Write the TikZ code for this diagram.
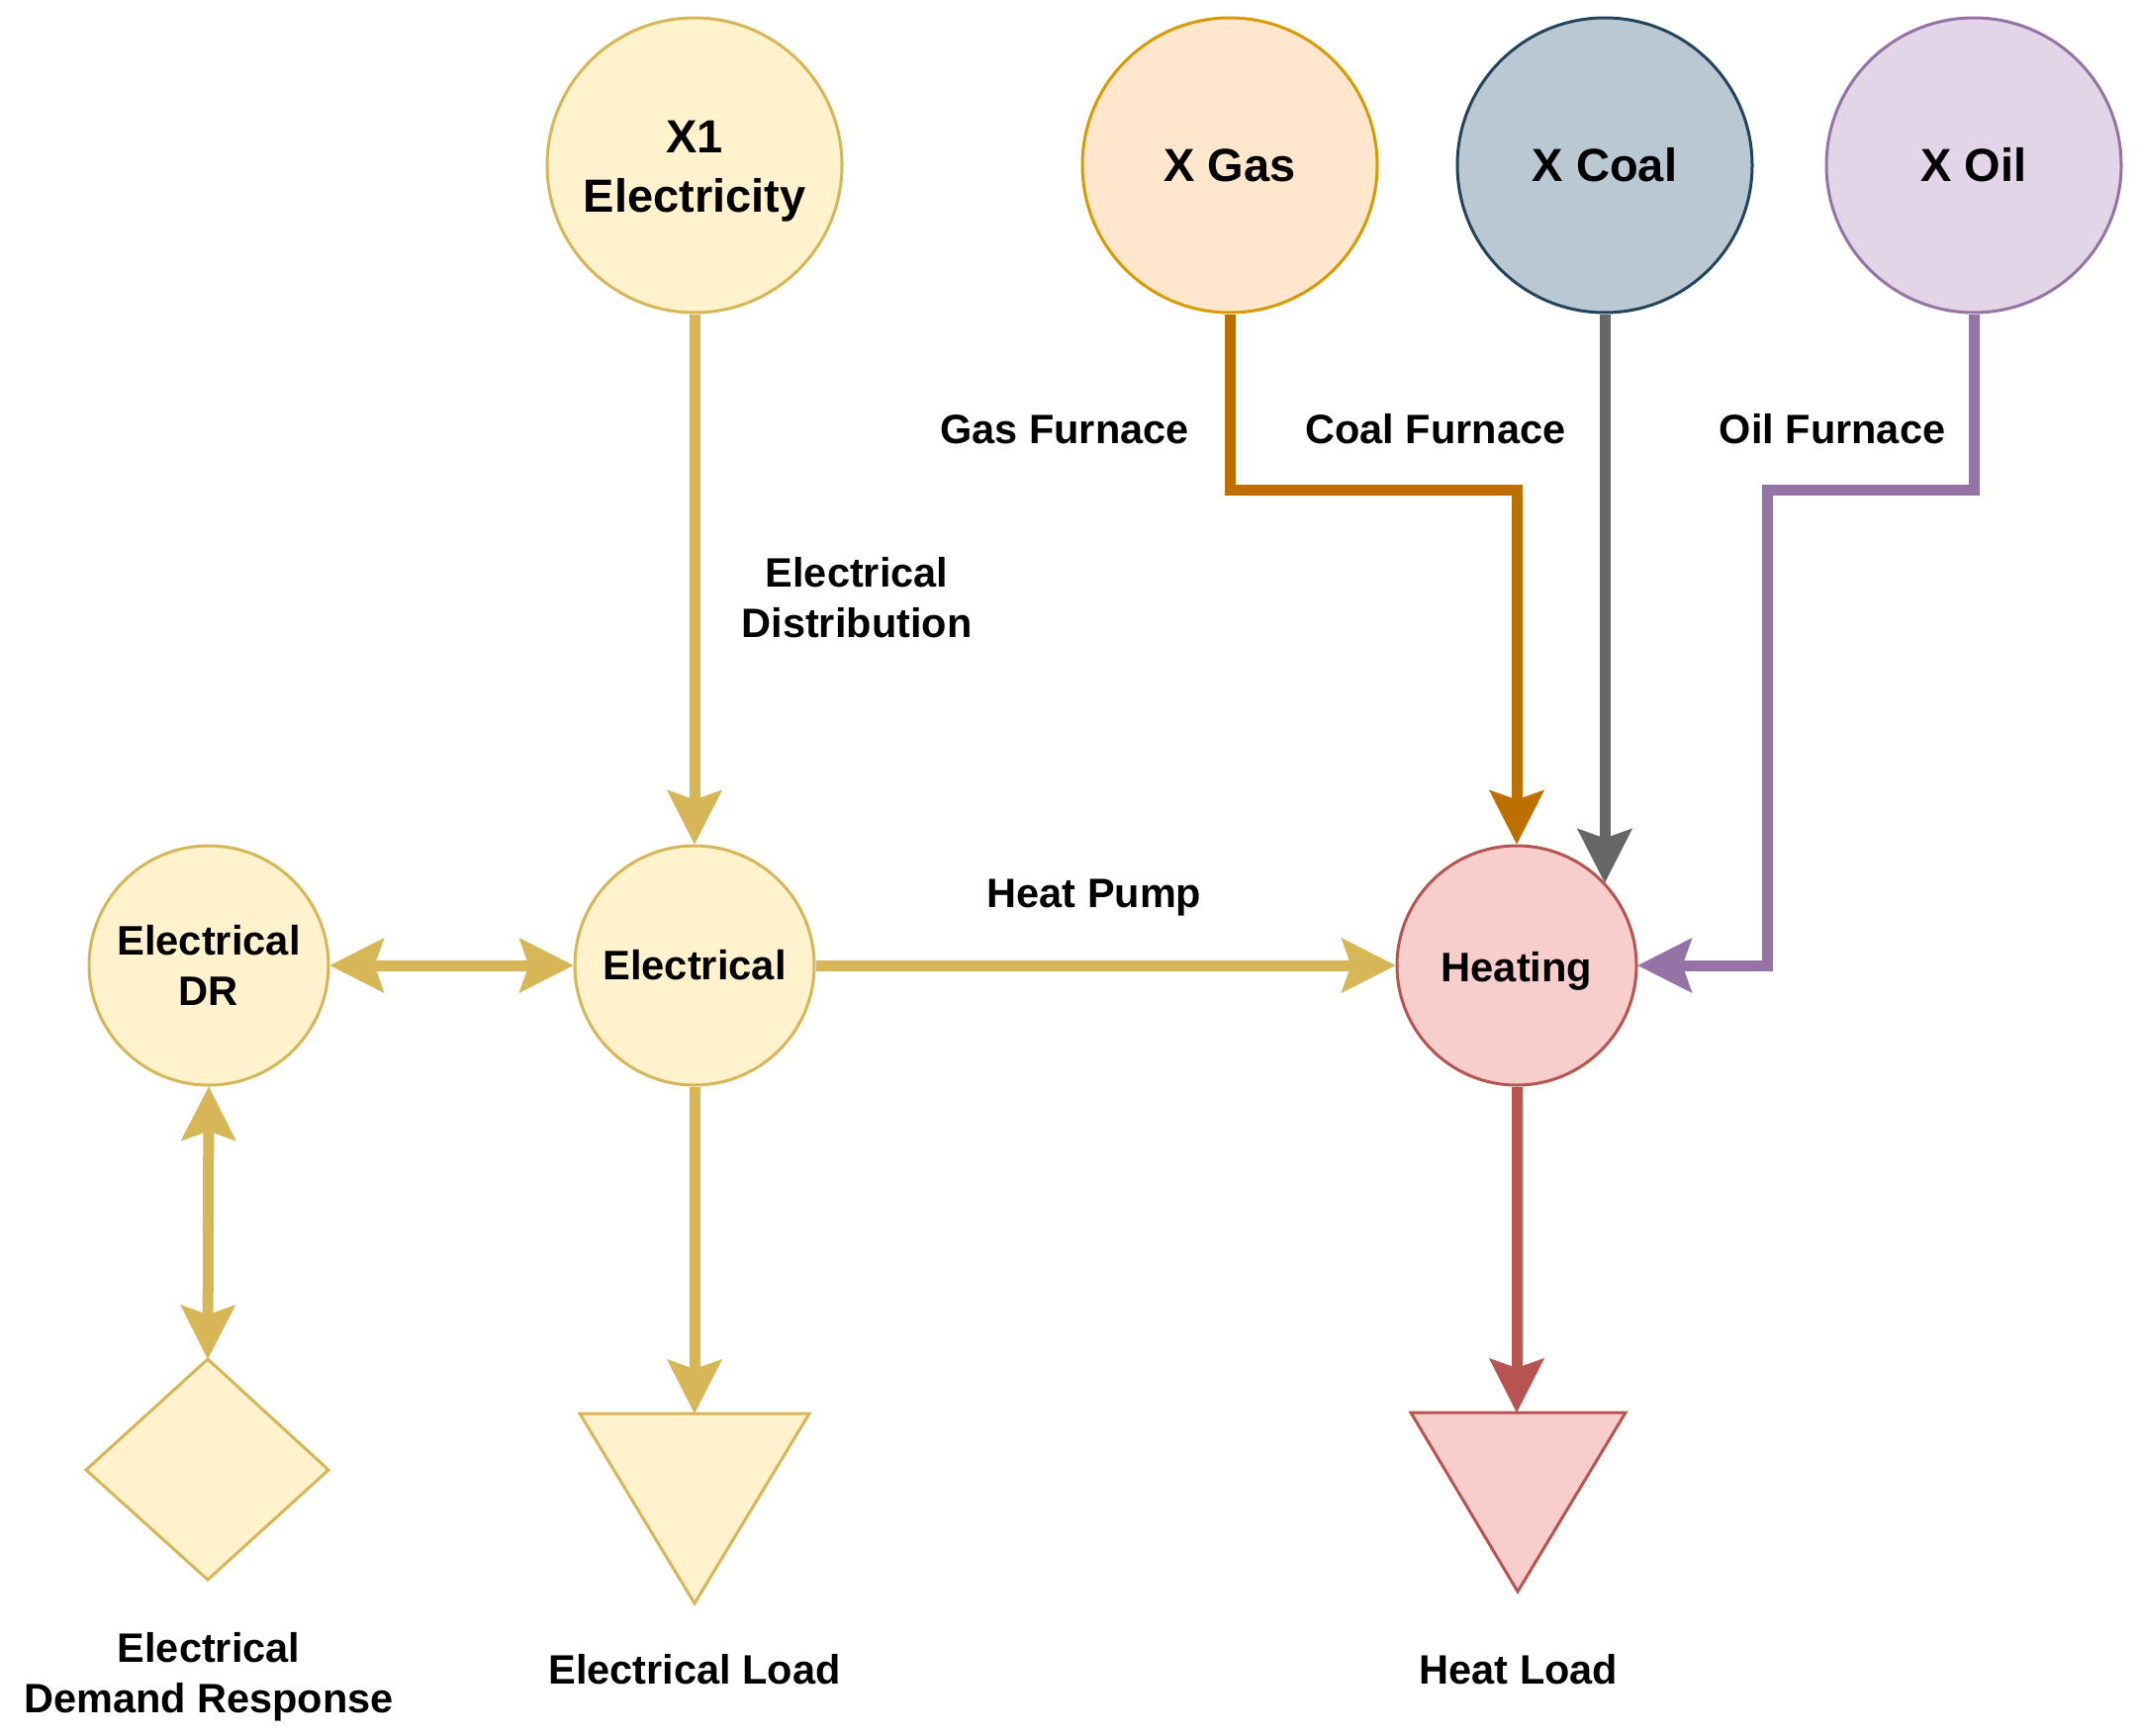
\documentclass[tikz,border=0pt]{standalone}
\usepackage{fontspec}
\setmainfont{Liberation Sans}
\usetikzlibrary{arrows.meta}
\definecolor{yfill}{HTML}{FFF2CC}
\definecolor{yline}{HTML}{D6B656}
\definecolor{gfill}{HTML}{FFE6CC}
\definecolor{gline}{HTML}{D79B00}
\definecolor{gedge}{HTML}{BD7000}
\definecolor{cfill}{HTML}{BAC8D3}
\definecolor{cline}{HTML}{23445D}
\definecolor{cedge}{HTML}{666666}
\definecolor{ofill}{HTML}{E1D5E7}
\definecolor{oline}{HTML}{9673A6}
\definecolor{hfill}{HTML}{F8CECC}
\definecolor{hline}{HTML}{B85450}
\newcommand{\lowertext}[1]{\raisebox{-6pt}[\height][\depth]{#1}}
\tikzset{
  bigcirc/.style={circle,draw,line width=3pt,minimum size=298pt,inner sep=0pt,align=center,
    font=\fontsize{47}{60}\selectfont\bfseries},
  smallcirc/.style={circle,draw,line width=3pt,minimum size=242pt,inner sep=0pt,align=center,
    font=\fontsize{41.7}{51}\selectfont\bfseries},
  lbl/.style={align=center,inner sep=0pt,font=\fontsize{41.5}{51}\selectfont\bfseries},
  tipshape/.tip={Stealth[length=55pt,width=56pt,inset=10pt,line width=0.5pt]},
  flow/.style={line width=11pt,line join=miter,-tipshape},
  bflow/.style={line width=11pt,line join=miter,tipshape-tipshape},
  shapeline/.style={line width=3pt,line join=miter}
}
\begin{document}
\begin{tikzpicture}[x=1pt,y=-1pt]
\useasboundingbox (0,0) rectangle (2163,1755);
% nodes
\node[bigcirc,fill=yfill,draw=yline] (x1) at (702,167) {\lowertext{\begin{tabular}{@{}c@{}}X1\\Electricity\end{tabular}}};
\node[bigcirc,fill=gfill,draw=gline] (gas) at (1243,167) {X Gas};
\node[bigcirc,fill=cfill,draw=cline] (coal) at (1622,167) {X Coal};
\node[bigcirc,fill=ofill,draw=oline] (oil) at (1995,167) {X Oil};
\node[smallcirc,fill=yfill,draw=yline] (dr) at (211,976) {Electrical\\DR};
\node[smallcirc,fill=yfill,draw=yline] (el) at (702,976) {Electrical};
\node[smallcirc,fill=hfill,draw=hline] (heat) at (1533,976) {\lowertext{Heating}};
% diamond
\draw[shapeline,fill=yfill,draw=yline] (210,1374) -- (332,1486) -- (210,1597) -- (87,1486) -- cycle;
\coordinate (dtop) at (210,1374);
% triangles
\draw[shapeline,fill=yfill,draw=yline] (586,1429) -- (818,1429) -- (702,1621) -- cycle;
\coordinate (eload) at (702,1429);
\draw[shapeline,fill=hfill,draw=hline] (1426,1428) -- (1643,1428) -- (1534,1609) -- cycle;
\coordinate (hload) at (1533,1428);
% corner coordinates
\coordinate (g1) at (1243,495);
\coordinate (o1) at (1786,495);
% edges
\draw[flow,draw=yline] (x1.south) -- (el.north);
\draw[flow,draw=yline] (el.east) -- (heat.west);
\draw[bflow,draw=yline] (dr.east) -- (el.west);
\draw[bflow,draw=yline] (dr.south) -- (dtop);
\draw[flow,draw=yline] (el.south) -- (eload);
\draw[flow,draw=gedge] (gas.south) -- (g1) -| (heat.north);
\draw[flow,draw=cedge] (coal.south) -- (coal.south |- heat.43.5);
\draw[flow,draw=oline] (oil.south) |- (o1) |- (heat.east);
\draw[flow,draw=hline] (heat.south) -- (hload);
% labels
\node[lbl] (ldist) at (866,604) {Electrical\\Distribution};
\node[lbl] (lgas) at (1076,434) {Gas Furnace};
\node[lbl] (lcoal) at (1451,434) {Coal Furnace};
\node[lbl] (loil) at (1852,434) {Oil Furnace};
\node[lbl] (lhp) at (1106,908) {Heat Pump};
\node[lbl] (ldr) at (211,1695) {Electrical\\Demand Response};
\node[lbl] (lel) at (702,1688) {Electrical Load};
\node[lbl] (lhl) at (1535,1688) {Heat Load};
\end{tikzpicture}
\end{document}
